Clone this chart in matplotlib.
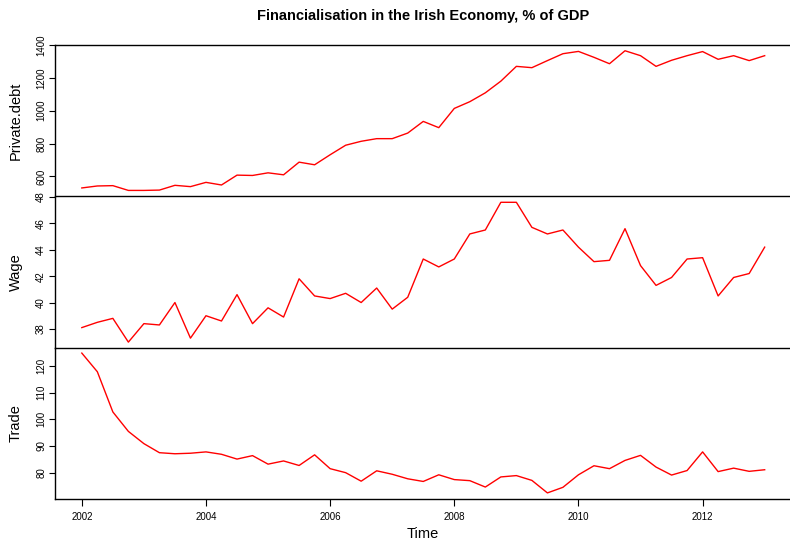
import numpy as np
import matplotlib.pyplot as plt

plt.rcParams['font.family'] = ['Liberation Sans', 'DejaVu Sans']

# quarterly series, 2002 Q1 .. 2013 Q1
start_year = 2002
private_debt = [530, 542, 544, 515, 515, 517, 546, 538, 564, 548,
                608, 606, 622, 610, 687, 671, 732, 790, 814, 830,
                830, 864, 935, 897, 1014, 1055, 1109, 1180, 1270, 1262,
                1305, 1347, 1361, 1325, 1286, 1365, 1335, 1270, 1307, 1335,
                1360, 1313, 1335, 1305, 1335]
wage = [38.1, 38.5, 38.8, 37.0, 38.4, 38.3, 40.0, 37.3, 39.0, 38.6,
        40.6, 38.4, 39.6, 38.9, 41.8, 40.5, 40.3, 40.7, 40.0, 41.1,
        39.5, 40.4, 43.3, 42.7, 43.3, 45.2, 45.5, 47.6, 47.6, 45.7,
        45.2, 45.5, 44.2, 43.1, 43.2, 45.6, 42.8, 41.3, 41.9, 43.3,
        43.4, 40.5, 41.9, 42.2, 44.2]
trade = [124.9, 117.9, 102.8, 95.5, 90.9, 87.5, 87.1, 87.3, 87.8, 86.9,
         85.1, 86.4, 83.2, 84.4, 82.7, 86.7, 81.5, 80.0, 76.8, 80.7,
         79.4, 77.7, 76.7, 79.2, 77.4, 77.0, 74.6, 78.4, 78.9, 77.1,
         72.4, 74.5, 79.2, 82.6, 81.5, 84.6, 86.5, 82.1, 79.1, 80.8,
         87.8, 80.4, 81.7, 80.5, 81.1]
names = ["Private.debt", "Wage", "Trade"]
yticks = [[600, 800, 1000, 1200, 1400],
          [38, 40, 42, 44, 46, 48],
          [80, 90, 100, 110, 120]]
xticks = [2002, 2004, 2006, 2008, 2010, 2012]

t = start_year + np.arange(len(wage)) / 4.0

fig = plt.figure(figsize=(7.9, 5.41), dpi=100)
left, right = 54.5 / 790, 792 / 790
tops = [45, 196.7, 347.5]
h = 151.0
xlo, xhi = t[0] - 0.04 * (t[-1] - t[0]), t[-1] + 0.04 * (t[-1] - t[0])

for i, (series, name) in enumerate(zip([private_debt, wage, trade], names)):
    y0 = 1 - (tops[i] + h) / 541
    ax = fig.add_axes([left, y0, right - left, h / 541])
    ax.patch.set_visible(False)
    ax.plot(t, series, color='red', lw=1)
    lo, hi = min(series), max(series)
    pad = 0.04 * (hi - lo)
    ax.set_ylim(lo - pad, hi + pad)
    ax.set_xlim(xlo, xhi)
    ax.set_yticks(yticks[i])
    ax.set_yticklabels([str(v) for v in yticks[i]], rotation=90, va='center', fontsize=7)
    ax.tick_params(axis='y', length=4, width=0.8, pad=2)
    ax.set_ylabel(name, fontsize=10.5)
    ax.yaxis.set_label_coords(-0.043, 0.5)
    for s in ax.spines.values():
        s.set_linewidth(1)
    ax.spines['right'].set_visible(False)
    if i > 0:
        ax.spines['top'].set_visible(False)
    if i < 2:
        ax.set_xticks([])
    else:
        ax.set_xticks(xticks)
        ax.set_xticklabels([str(v) for v in xticks], fontsize=7)
        ax.tick_params(axis='x', length=5, width=0.8, pad=5)
        ax.set_xlabel("Time", fontsize=10.5, va='top')
        ax.xaxis.set_label_coords((423 - 54.5) / (792 - 54.5), -0.19)

fig.text(423 / 790, 1 - 16 / 541, "Financialisation in the Irish Economy, % of GDP",
         ha='center', va='center', fontsize=10.5, fontweight='bold')

plt.savefig("out.png", dpi=100)
